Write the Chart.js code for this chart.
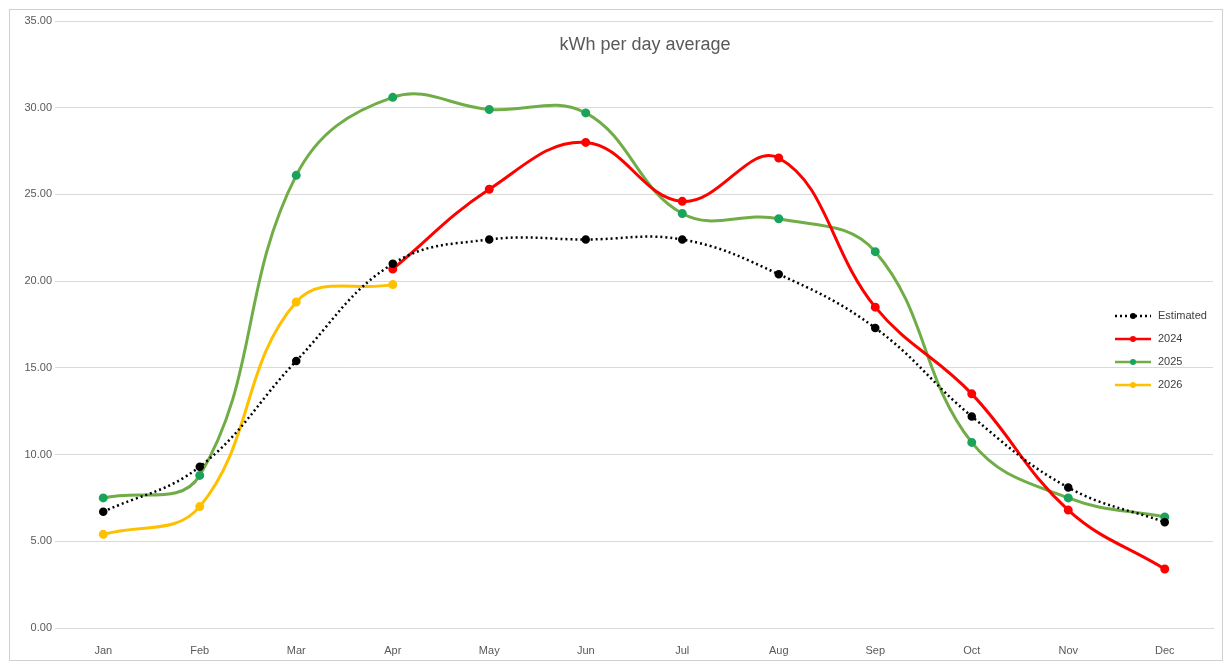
<!DOCTYPE html>
<html>
<head>
<meta charset="utf-8">
<script src="https://cdn.jsdelivr.net/npm/chart.js"></script>
<style>
html,body{margin:0;padding:0;background:#fff;}
#wrap{position:absolute;left:0;top:0;width:1225px;height:664px;}
#frame{position:absolute;left:9px;top:9px;width:1212px;height:650px;border:1px solid #d0d0d0;}
</style>
</head>
<body>
<div id="wrap"><div id="frame"></div><canvas id="grafico"></canvas></div>
<script>
// kWh per day average
const meses = ['Jan','Feb','Mar','Apr','May','Jun','Jul','Aug','Sep','Oct','Nov','Dec'];
const series = [
  {label:'Estimated', color:'#000000', dash:[2,3], data:[6.7,9.3,15.4,21.0,22.4,22.4,22.4,20.4,17.3,12.2,8.1,6.1]},
  {label:'2024', color:'#ff0000', data:[null,null,null,20.7,25.3,28.0,24.6,27.1,18.5,13.5,6.8,3.4]},
  {label:'2025', color:'#70ad47', pointColor:'#1aa35a', data:[7.5,8.8,26.1,30.6,29.9,29.7,23.9,23.6,21.7,10.7,7.5,6.4]},
  {label:'2026', color:'#ffc000', data:[5.4,7.0,18.8,19.8,null,null,null,null,null,null,null,null]}
];

const legendaPlugin = {
  id:'legenda',
  afterDraw(chart){
    const c = chart.ctx;
    c.save();
    c.font = '11px "Liberation Sans", Arial';
    c.fillStyle = '#404040';
    c.textBaseline = 'middle';
    series.forEach((s,i)=>{
      const y = 316 + i*23, x = 1115;
      c.strokeStyle = s.color; c.lineWidth = s.dash ? 2.5 : 2.5;
      c.setLineDash(s.dash || []);
      c.beginPath(); c.moveTo(x,y); c.lineTo(x+36,y); c.stroke();
      c.setLineDash([]);
      c.fillStyle = s.pointColor || s.color;
      c.beginPath(); c.arc(x+18,y,3,0,Math.PI*2); c.fill();
      c.fillStyle = '#404040';
      c.fillText(s.label, x+43, y);
    });
    c.restore();
  }
};

const ctx = document.getElementById('grafico').getContext('2d');
const grafico = new Chart(ctx, {
  type:'line',
  data:{
    labels: meses,
    datasets: series.map(s=>({
      label: s.label,
      data: s.data,
      borderColor: s.color,
      backgroundColor: s.pointColor || s.color,
      pointBackgroundColor: s.pointColor || s.color,
      pointBorderColor: s.pointColor || s.color,
      borderWidth: s.dash ? 2.5 : 3,
      borderDash: s.dash || [],
      pointRadius: 3,
      tension: 0.4,
      spanGaps: false
    }))
  },
  options:{
    responsive:true,
    maintainAspectRatio:false,
    animation:false,
    layout:{padding:{top:21,right:12,left:0,bottom:0}},
    plugins:{
      legend:{display:false},
      tooltip:{enabled:false},
      title:{display:false}
    },
    scales:{
      x:{
        offset:true,
        grid:{display:false, drawTicks:true},
        border:{color:'#d9d9d9'},
        ticks:{color:'#595959', font:{size:11, family:'"Liberation Sans", Arial'}, padding:8},
        afterFit(a){ a.height = 36; }
      },
      y:{
        min:0, max:35,
        ticks:{stepSize:5, color:'#595959', font:{size:11, family:'"Liberation Sans", Arial'},
          callback:v=>v.toFixed(2)},
        grid:{color:'#d9d9d9', drawTicks:false},
        border:{display:false},
        afterFit(a){ a.width = 55; }
      }
    }
  },
  plugins:[legendaPlugin, {
    id:'titulo',
    afterDraw(chart){
      const c = chart.ctx;
      c.save();
      c.font = '18px "Liberation Sans", Arial';
      c.fillStyle = '#595959';
      c.textAlign = 'center'; c.textBaseline = 'middle';
      c.fillText('kWh per day average', 645, 45);
      c.restore();
    }
  }]
});
</script>
</body>
</html>
